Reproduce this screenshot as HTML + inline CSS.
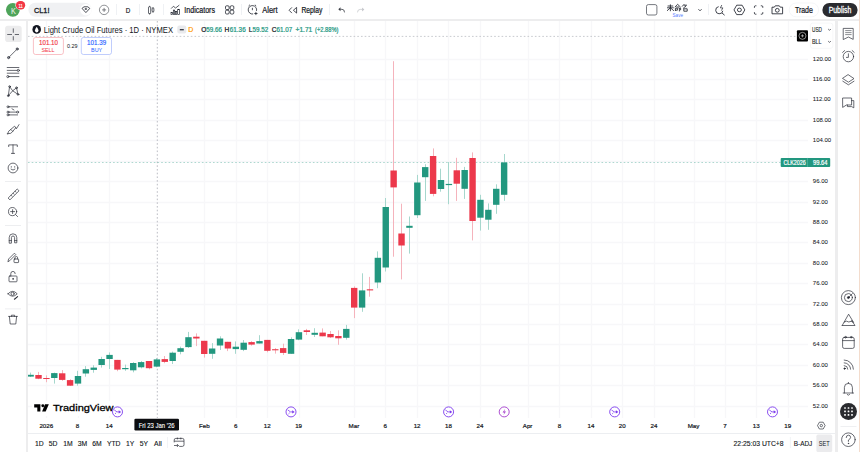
<!DOCTYPE html>
<html><head><meta charset="utf-8">
<style>
*{margin:0;padding:0;box-sizing:border-box}
html,body{width:860px;height:452px;overflow:hidden;background:#ededee;font-family:"Liberation Sans",sans-serif;color:#131722}
.a{position:absolute}
#hdr{left:0;top:0;width:860px;height:19px;background:#fff}
#lt{left:0;top:21px;width:26px;height:431px;background:#fff}
#ch{left:28px;top:21px;width:807px;height:431px;background:#fff}
#rt{left:837.6px;top:21px;width:22.4px;height:431px;background:#fff}
svg.full{position:absolute;left:0;top:0}
.grid line{stroke:#f7f7f9;stroke-width:1.3}
.pl{position:absolute;left:812.8px;width:24px;text-align:left;font-size:6px;line-height:10px;color:#131722;-webkit-text-stroke:0.05px #131722}
.tl{position:absolute;top:421px;width:40px;text-align:center;font-size:6.2px;line-height:10px;color:#131722;-webkit-text-stroke:0.2px #131722}
.tb{position:absolute;font-size:7.2px;line-height:10px;color:#131722}
.sep{position:absolute;background:#e0e3eb}
.ic{position:absolute;fill:none;stroke:#131722;stroke-width:0.8}
.bb{position:absolute;top:438px;font-size:7px;line-height:10px;color:#131722}
</style></head><body>
<div id="hdr" class="a"></div>
<div id="lt" class="a"></div>
<div id="ch" class="a"></div>
<div id="rt" class="a"></div>
<div class="a" style="left:859px;top:0;width:1px;height:452px;background:#f3dccd"></div>


<!-- HEADER -->
<svg class="full" width="860" height="20" viewBox="0 0 860 20" style="z-index:2">
  <circle cx="12.85" cy="9.85" r="6.9" fill="#4ea45a"/>
  <text x="11" y="13.7" font-size="9.4" fill="#f4f8f4" font-family="Liberation Sans" textLength="4.9" lengthAdjust="spacingAndGlyphs">K</text>
  <rect x="15.4" y="0.6" width="10.3" height="9.4" rx="4.7" fill="#fff"/>
  <rect x="15.9" y="1.1" width="9.3" height="8.4" rx="4.2" fill="#f23645"/>
  <text x="20.55" y="7.6" font-size="6" fill="#fff" stroke="#fff" stroke-width="0.15" text-anchor="middle" font-family="Liberation Sans" textLength="4.2" lengthAdjust="spacingAndGlyphs">11</text>
  <rect x="28.4" y="2.8" width="63.2" height="13.9" rx="6.95" fill="#f0f1f3"/>
  <text x="34" y="12.6" font-size="7.8" fill="#131722" stroke="#131722" stroke-width="0.3" font-family="Liberation Sans" textLength="15.5" lengthAdjust="spacingAndGlyphs">CL1!</text>
  <circle cx="85.9" cy="9.75" r="5.8" fill="#fff"/>
  <path d="M82 8.4 L84 6.8 H87.8 L89.8 8.4 L85.9 12.6 Z" fill="none" stroke="#131722" stroke-width="0.75" stroke-linejoin="round"/><path d="M84.4 9.1 Q85.9 7.6 87.4 9.1 Q85.9 10.6 84.4 9.1 Z" fill="#131722"/>
  <circle cx="104.1" cy="9.9" r="4.7" fill="none" stroke="#55585f" stroke-width="0.65"/>
  <path d="M102.1 9.9 H106.1 M104.1 7.9 V11.9" stroke="#4a4d55" stroke-width="0.7"/>
  <rect x="116" y="4" width="0.8" height="11" fill="#eceef2"/>
  <text x="125.7" y="12.8" font-size="7.6" fill="#131722" stroke="#131722" stroke-width="0.2" font-family="Liberation Sans" textLength="4.5" lengthAdjust="spacingAndGlyphs">D</text>
  <rect x="139" y="4" width="0.8" height="11" fill="#eceef2"/>
  <!-- candle icon -->
  <path d="M149.6 5.8 V14.6 M153 7 V12.8" stroke="#131722" stroke-width="0.6"/>
  <rect x="148.5" y="6.8" width="2.2" height="6.8" rx="0.5" fill="#fff" stroke="#131722" stroke-width="0.65"/>
  <rect x="152.1" y="8.2" width="1.8" height="3.4" rx="0.5" fill="#fff" stroke="#131722" stroke-width="0.65"/>
  <rect x="163" y="4" width="0.8" height="11" fill="#eceef2"/>
  <!-- indicators icon -->
  <path d="M171.1 8.6 L173.4 6.3 L175.6 8 L179.3 5.1" fill="none" stroke="#131722" stroke-width="0.7"/>
  <g fill="none" stroke="#131722" stroke-width="0.65"><rect x="171" y="12.3" width="1.5" height="2.1"/><rect x="173.3" y="10.1" width="1.4" height="4.3"/><rect x="175.4" y="11.4" width="1.4" height="3"/><rect x="177.7" y="9.3" width="1.8" height="5.1"/></g>
  <text x="184.3" y="12.8" font-size="8.6" fill="#131722" stroke="#131722" stroke-width="0.22" font-family="Liberation Sans" textLength="30.7" lengthAdjust="spacingAndGlyphs">Indicators</text>
  <!-- grid icon -->
  <g fill="none" stroke="#131722" stroke-width="0.75">
   <rect x="225.5" y="5.8" width="3.6" height="3.8" rx="1.1"/><rect x="230.2" y="5.8" width="3.6" height="3.8" rx="1.1"/>
   <rect x="225.5" y="10.2" width="3.6" height="3.8" rx="1.1"/><rect x="230.2" y="10.2" width="3.6" height="3.8" rx="1.1"/>
  </g>
  <rect x="241" y="4" width="0.8" height="11" fill="#eceef2"/>
  <!-- alert icon -->
  <g fill="none" stroke="#131722" stroke-width="0.75">
   <path d="M253.13 13.94 A4.2 4.2 0 1 1 256.46 10.89"/>
   <path d="M252.4 7.8 V10.2 M248.6 6 L249.9 4.8 M256.2 6 L254.9 4.8"/>
   <path d="M254.3 13.5 H257.5 M255.9 11.9 V15.1" stroke-width="0.75"/>
  </g>
  <text x="262.3" y="12.8" font-size="8.6" fill="#131722" stroke="#131722" stroke-width="0.22" font-family="Liberation Sans" textLength="15.3" lengthAdjust="spacingAndGlyphs">Alert</text>
  <!-- replay icon -->
  <g fill="none" stroke="#131722" stroke-width="0.75">
   <path d="M296.6 7.4 V13.1 L293.4 10.25 Z M291.9 7.4 L289.1 10.25 L291.9 13.1" stroke-linejoin="round"/>
  </g>
  <text x="301.4" y="12.8" font-size="8.6" fill="#131722" stroke="#131722" stroke-width="0.22" font-family="Liberation Sans" textLength="21" lengthAdjust="spacingAndGlyphs">Replay</text>
  <rect x="329" y="4" width="0.8" height="11" fill="#eceef2"/>
  <path d="M338.3 9.3 L340.5 7.3 V11.3 Z" fill="#3a3d45"/><path d="M340.2 9.3 H342 Q344.5 9.3 344.5 12.4" fill="none" stroke="#3a3d45" stroke-width="0.8"/>
  <path d="M364.3 9.4 L362.1 7.4 V11.4 Z" fill="#c3c5ca"/><path d="M362.4 9.4 H360.2 Q357.5 9.4 357.5 12.4" fill="none" stroke="#c3c5ca" stroke-width="0.75"/>

  <!-- right header -->
  <rect x="646.5" y="4.6" width="10.4" height="10.4" rx="1.8" fill="none" stroke="#4a4d55" stroke-width="0.75"/>
  <g stroke="#131722" stroke-width="0.8" fill="none" transform="translate(0 -0.4)">
   <!-- 未 -->
   <path d="M667.6 6.4 H673.2 M667 8.2 H673.8 M670.4 4.8 V11.6 M670.2 8.4 L667 11.2 M670.6 8.4 L673.9 11.2"/>
   <!-- 命 -->
   <path d="M677.6 4.7 L674.8 7.6 M677.6 4.7 L680.6 7.6 M676.2 7.4 H679 M675.4 8.6 V11.4 M675.4 8.6 H677.4 V10.6 H675.4 M678.6 8.6 H680.6 V10.6 M679.4 8.6 V11.8"/>
   <!-- 名 -->
   <path d="M684.2 4.6 L682 7 M683.8 5.6 H686.6 L683 9 M683.8 9.2 H687.2 V11.6 H683.8 V9.2 M685.4 6.8 L685.8 7.6"/>
  </g>
  <text x="677.8" y="16.6" font-size="4.8" fill="#5a7dff" text-anchor="middle" font-family="Liberation Sans" textLength="10.5" lengthAdjust="spacingAndGlyphs">Save</text>
  <path d="M698.4 9.2 L700 10.8 L701.6 9.2" fill="none" stroke="#131722" stroke-width="0.75"/>
  <rect x="708" y="4" width="0.8" height="11" fill="#eceef2"/>
  <!-- quick search icon -->
  <g fill="none" stroke="#131722" stroke-width="0.8">
   <path d="M718.67 6.65 A3.6 3.6 0 1 0 722.85 10.83"/>
   <path d="M722 13 L724.6 15.2"/>
   <path d="M721.8 5 L720.4 7.9 H722.9 L721.4 10.6" stroke-width="0.65"/>
  </g>
  <!-- settings hex -->
  <g fill="none" stroke="#131722" stroke-width="0.8">
   <path d="M736.7 5.2 H742.1 L744.8 9.9 L742.1 14.6 H736.7 L734 9.9 Z" stroke-linejoin="round"/>
   <ellipse cx="739.4" cy="9.9" rx="2" ry="1.8"/>
  </g>
  <!-- fullscreen -->
  <g fill="none" stroke="#131722" stroke-width="0.8">
   <path d="M754.4 7.8 V6.8 Q754.4 5.8 755.4 5.8 H756.4 M760.8 5.8 H761.8 Q762.8 5.8 762.8 6.8 V7.8 M762.8 12.2 V13.2 Q762.8 14.2 761.8 14.2 H760.8 M756.4 14.2 H755.4 Q754.4 14.2 754.4 13.2 V12.2"/>
  </g>
  <!-- camera -->
  <g fill="none" stroke="#131722" stroke-width="0.8">
   <path d="M772 7.2 H774.3 L775.3 5.8 H779.3 L780.3 7.2 H782.6 V13.8 H772 Z"/>
   <circle cx="777.3" cy="10.3" r="1.9"/>
  </g>
  <rect x="789.2" y="3" width="29.4" height="13.8" rx="6.9" fill="#fff" stroke="#eef0f3" stroke-width="0.6"/>
  <text x="803.9" y="12.8" font-size="8.6" fill="#131722" stroke="#131722" stroke-width="0.22" text-anchor="middle" font-family="Liberation Sans" textLength="18" lengthAdjust="spacingAndGlyphs">Trade</text>
  <rect x="822.4" y="2.9" width="35.2" height="14.1" rx="7" fill="#2a2b2f"/>
  <text x="840" y="12.7" font-size="8.6" fill="#fff" stroke="#fff" stroke-width="0.3" text-anchor="middle" font-family="Liberation Sans" textLength="22.6" lengthAdjust="spacingAndGlyphs">Publish</text>
</svg>


<!-- LEGEND + TOOLBARS -->
<svg class="full" width="860" height="452" viewBox="0 0 860 452" style="z-index:3">
  <circle cx="36.7" cy="29.4" r="4.3" fill="#131722"/>
  <path d="M36.7 26.8 Q34.9 29.4 34.9 30.6 A1.8 1.8 0 0 0 38.5 30.6 Q38.5 29.4 36.7 26.8 Z" fill="#fff"/>
  <text x="43.7" y="32.8" font-size="8.8" fill="#131722" font-family="Liberation Sans" textLength="129.3" lengthAdjust="spacingAndGlyphs">Light Crude Oil Futures · 1D · NYMEX</text>
  <rect x="177.3" y="25.6" width="9" height="8" rx="2" fill="#e9eaed"/>
  <rect x="179.8" y="29.2" width="4" height="1.1" fill="#131722"/>
  <text x="190.9" y="32.2" font-size="7" fill="#ff9800" stroke="#ff9800" stroke-width="0.2" text-anchor="middle" font-family="Liberation Sans">D</text>
  <g font-family="Liberation Sans" font-size="6.6" stroke-width="0.22">
   <text x="201.2" y="32" fill="#131722" stroke="#131722">O</text><text x="206.2" y="32" fill="#22977f" stroke="#22977f" textLength="15.7" lengthAdjust="spacingAndGlyphs">59.66</text>
   <text x="224.6" y="32" fill="#131722" stroke="#131722">H</text><text x="229.8" y="32" fill="#22977f" stroke="#22977f" textLength="15.9" lengthAdjust="spacingAndGlyphs">61.36</text>
   <text x="248.8" y="32" fill="#131722" stroke="#131722">L</text><text x="252.6" y="32" fill="#22977f" stroke="#22977f" textLength="15.7" lengthAdjust="spacingAndGlyphs">59.52</text>
   <text x="271.8" y="32" fill="#131722" stroke="#131722">C</text><text x="276.6" y="32" fill="#22977f" stroke="#22977f" textLength="15.8" lengthAdjust="spacingAndGlyphs">61.07</text>
   <text x="295.5" y="32" fill="#22977f" stroke="#22977f" textLength="16.8" lengthAdjust="spacingAndGlyphs">+1.71</text>
   <text x="315" y="32" fill="#22977f" stroke="#22977f" textLength="23.4" lengthAdjust="spacingAndGlyphs">(+2.88%)</text>
  </g>
  <!-- sell / buy -->
  <rect x="33.4" y="37.5" width="30" height="17" rx="2.2" fill="#fff" stroke="#f7a6ad" stroke-width="0.7"/>
  <text x="48.5" y="44.9" font-size="6.6" fill="#f23645" stroke="#f23645" stroke-width="0.15" text-anchor="middle" font-family="Liberation Sans" textLength="19" lengthAdjust="spacingAndGlyphs">101.10</text>
  <text x="48" y="52" font-size="5.4" fill="#f23645" text-anchor="middle" font-family="Liberation Sans">SELL</text>
  <text x="72.2" y="48" font-size="5.4" fill="#131722" text-anchor="middle" font-family="Liberation Sans">0.29</text>
  <rect x="81.3" y="37.5" width="30.2" height="17" rx="2.2" fill="#fff" stroke="#a5b8fb" stroke-width="0.7"/>
  <text x="96.6" y="44.9" font-size="6.6" fill="#2962ff" stroke="#2962ff" stroke-width="0.15" text-anchor="middle" font-family="Liberation Sans" textLength="19" lengthAdjust="spacingAndGlyphs">101.39</text>
  <text x="96.6" y="52" font-size="5.4" fill="#2962ff" text-anchor="middle" font-family="Liberation Sans">BUY</text>

  <!-- LEFT TOOLBAR -->
  <rect x="5.1" y="25.8" width="16.6" height="16.3" rx="2.8" fill="#ececed"/>
  <g fill="none" stroke="#2a2d36" stroke-width="0.7" stroke-linecap="round">
   <path d="M13.3 28.8 V32.4 M13.3 36.6 V40 M7.6 34.5 H11.6 M15.2 34.5 H18.6"/>
   <!-- line tool -->
   <path d="M9.3 56.9 L16.5 49.7"/>
   <circle cx="8.6" cy="57.6" r="1.1" fill="#8a8d95"/><circle cx="17.2" cy="49" r="1.1" fill="#8a8d95"/>
   <!-- fib -->
   <path d="M7.2 67.5 H18.9 M7.2 70.4 H17.2 M7.2 73.2 H18.9 M9 76.6 H18.9"/>
   <circle cx="18.3" cy="70.4" r="1.1"/><circle cx="7.9" cy="76.6" r="1.1"/>
   <!-- pattern -->
   <path d="M8.3 95.7 L9.6 86.6 L12.7 90.8 L16.5 87.8 L18 94.4 L12.7 90.8 L8.3 95.7"/>
   <circle cx="9.6" cy="86.6" r="0.9"/><circle cx="8.3" cy="95.7" r="0.9"/><circle cx="16.5" cy="87.8" r="0.9"/><circle cx="18" cy="94.4" r="0.9"/>
   <!-- forecast -->
   <path d="M9 106.8 H17.6 M9 112.1 H16.6 M9 114.9 H17.6 M12 108.8 L14 110"/>
   <circle cx="8" cy="106.8" r="1"/><circle cx="8" cy="112.1" r="1"/><circle cx="17.6" cy="112.1" r="1"/><circle cx="8" cy="114.9" r="1"/>
   <!-- brush -->
   <path d="M7.6 133.8 Q8.2 130.6 10.8 129.4 L12.8 131.4 Q11.6 134 7.6 133.8 Z M10.8 129.4 L14.6 126.2 L15.8 127.6 L12.8 131.4 M15.6 127.6 L16.4 128.8 L19 124.6"/>
   <!-- T -->
   <path d="M8.7 146.6 V144.9 H17.3 V146.6 M13 144.9 V153.4 M11.4 153.4 H14.6"/>
   <!-- smiley -->
   <circle cx="13" cy="168" r="4.9"/>
   <path d="M11.3 166.6 V167.2 M14.7 166.6 V167.2 M11 169.2 Q13 171.2 15 169.2"/>
   <!-- ruler -->
   <path d="M8.4 197.8 L17.2 189 L19 190.8 L10.2 199.6 Z M11 195.2 L12 196.2 M13 193.2 L14 194.2 M15 191.2 L16 192.2"/>
   <!-- zoom -->
   <circle cx="12.6" cy="211.6" r="4.1"/>
   <path d="M15.6 214.6 L17.6 216.6 M10.6 211.6 H14.6 M12.6 209.6 V213.6"/>
   <!-- magnet -->
   <path d="M9.2 242.8 V237.6 A3.8 3.8 0 0 1 16.8 237.6 V242.8 H14.6 V237.6 A1.6 1.6 0 0 0 11.4 237.6 V242.8 Z M9.2 240.6 H11.4 M14.6 240.6 H16.8"/>
   <!-- pencil lock -->
   <path d="M8 261.4 L8.6 259 L14.4 253.2 L15.8 254.6 L10 260.4 Z"/>
   <rect x="14" y="259" width="4.6" height="3.6" rx="0.6"/>
   <path d="M15 259 V257.8 A1.3 1.3 0 0 1 17.6 257.8 V259"/>
   <!-- lock -->
   <rect x="9" y="276" width="8" height="5.8" rx="0.8"/>
   <path d="M10.8 276 V273.6 A2.2 2.2 0 0 1 15.2 273.6"/>
   <circle cx="13" cy="278.9" r="0.4" fill="#131722"/>
   <!-- eye -->
   <path d="M8 293.8 Q12.6 288.8 17.2 293.8 Q12.6 298.8 8 293.8 Z"/>
   <circle cx="12.6" cy="293.8" r="1.6"/>
   <path d="M14.4 299.2 L17.6 296.6" stroke-width="1.1"/>
   <!-- trash -->
   <path d="M8.6 316.4 H17.4 M9.4 316.4 L10.2 324 H15.8 L16.6 316.4 M11.4 316.4 V315.2 H14.6 V316.4"/>
  </g>
  <rect x="5" y="181" width="16" height="0.8" fill="#e9eaed"/>
  <rect x="5" y="225" width="16" height="0.8" fill="#e9eaed"/>
  <rect x="5" y="308.5" width="16" height="0.8" fill="#e9eaed"/>

  <!-- RIGHT SIDEBAR -->
  <g fill="none" stroke="#2a2d36" stroke-width="0.7" stroke-linecap="round">
   <!-- watchlist -->
   <path d="M843.6 28.4 H853.2 V39.4 L848.4 37 L843.6 39.4 Z"/><path d="M845.6 30.6 H851.2 M845.6 32.6 H851.2 M845.6 34.6 H851.2" stroke-width="0.55"/>
   <!-- alarm -->
   <circle cx="848.4" cy="56.6" r="5.2"/>
   <path d="M848.4 53.8 V57.4 H846.4 M842.6 52.4 L844.6 50.6 M854.2 52.4 L852.2 50.6"/>
   <!-- layers -->
   <path d="M848.4 74.8 L854 78.6 L848.4 82.2 L842.8 78.6 Z M842.8 81.2 L848.4 84.8 L854 81.2"/>
   <!-- chat -->
   <path d="M843 98 H851.6 V105 H846.4 L843 107.2 Z M851.6 100.6 H853.8 V107.8 L851.6 106.6 H847.4 V105"/>
   <!-- target -->
   <circle cx="848.4" cy="297.6" r="7"/>
   <circle cx="848.4" cy="297.6" r="4"/>
   <circle cx="848.4" cy="297.6" r="1" fill="#131722"/>
   <path d="M848.6 297.4 L852.4 293.6"/>
   <!-- mountain -->
   <path d="M842.2 325.5 H855 L851.6 320.4 M842.2 325.5 L848.6 314.2 L853.6 322.4 Q851 320.4 848.8 322 Q846.6 320.2 844.2 322"/>
   <!-- calendar -->
   <rect x="842.6" y="337.4" width="11.6" height="11" rx="1.6"/>
   <path d="M842.6 340.6 H854.2"/>
   <circle cx="845.6" cy="337.2" r="0.8"/><circle cx="851.2" cy="337.2" r="0.8"/>
   <!-- rss -->
   <path d="M844.2 362.8 A6.4 6.4 0 0 1 850.6 369.2 M844.2 360 A9.2 9.2 0 0 1 853.4 369.2 M844.2 365.6 A3.6 3.6 0 0 1 847.8 369.2"/>
   <circle cx="844.6" cy="368.6" r="0.7" fill="#131722"/>
   <!-- bell -->
   <path d="M843.2 393 H853.6 M844.4 393 V387.4 A4 4 0 0 1 852.4 387.4 V393 M848.4 383.4 V382.4 M847.2 394.6 Q848.4 396 849.6 394.6"/>
   <!-- help -->
   <circle cx="848.4" cy="439.7" r="6.8"/>
   <path d="M846.2 437.6 Q846.2 435.2 848.4 435.2 Q850.6 435.2 850.6 437.4 Q850.6 438.8 848.4 440 V441.4"/>
   <circle cx="848.4" cy="443.4" r="0.3" fill="#131722"/>
  </g>
  <circle cx="848.5" cy="411.4" r="8.5" fill="#2a2b2f"/>
  <g fill="#fff"><rect x="844.15" y="407.15" width="1.7" height="1.7" rx="0.5"/><rect x="847.65" y="407.15" width="1.7" height="1.7" rx="0.5"/><rect x="851.15" y="407.15" width="1.7" height="1.7" rx="0.5"/><rect x="844.15" y="410.54999999999995" width="1.7" height="1.7" rx="0.5"/><rect x="847.65" y="410.54999999999995" width="1.7" height="1.7" rx="0.5"/><rect x="851.15" y="410.54999999999995" width="1.7" height="1.7" rx="0.5"/><rect x="844.15" y="413.95" width="1.7" height="1.7" rx="0.5"/><rect x="847.65" y="413.95" width="1.7" height="1.7" rx="0.5"/><rect x="851.15" y="413.95" width="1.7" height="1.7" rx="0.5"/></g>
  <rect x="840.5" y="426" width="16" height="0.7" fill="#e9eaed"/>
</svg>

<!-- grid + candles -->
<svg class="full" width="860" height="452" viewBox="0 0 860 452">
<g class="grid">
<line x1="28" y1="59.5" x2="808" y2="59.5"/>
<line x1="28" y1="79.5" x2="808" y2="79.5"/>
<line x1="28" y1="99.5" x2="808" y2="99.5"/>
<line x1="28" y1="120.5" x2="808" y2="120.5"/>
<line x1="28" y1="140.5" x2="808" y2="140.5"/>
<line x1="28" y1="161.5" x2="808" y2="161.5"/>
<line x1="28" y1="181.5" x2="808" y2="181.5"/>
<line x1="28" y1="202.5" x2="808" y2="202.5"/>
<line x1="28" y1="222.5" x2="808" y2="222.5"/>
<line x1="28" y1="242.5" x2="808" y2="242.5"/>
<line x1="28" y1="263.5" x2="808" y2="263.5"/>
<line x1="28" y1="283.5" x2="808" y2="283.5"/>
<line x1="28" y1="304.5" x2="808" y2="304.5"/>
<line x1="28" y1="324.5" x2="808" y2="324.5"/>
<line x1="28" y1="344.5" x2="808" y2="344.5"/>
<line x1="28" y1="365.5" x2="808" y2="365.5"/>
<line x1="28" y1="385.5" x2="808" y2="385.5"/>
<line x1="28" y1="406.5" x2="808" y2="406.5"/>
<line x1="46.5" y1="21" x2="46.5" y2="418"/>
<line x1="78.5" y1="21" x2="78.5" y2="418"/>
<line x1="109.5" y1="21" x2="109.5" y2="418"/>
<line x1="204.5" y1="21" x2="204.5" y2="418"/>
<line x1="236.5" y1="21" x2="236.5" y2="418"/>
<line x1="267.5" y1="21" x2="267.5" y2="418"/>
<line x1="299.5" y1="21" x2="299.5" y2="418"/>
<line x1="354.5" y1="21" x2="354.5" y2="418"/>
<line x1="385.5" y1="21" x2="385.5" y2="418"/>
<line x1="417.5" y1="21" x2="417.5" y2="418"/>
<line x1="448.5" y1="21" x2="448.5" y2="418"/>
<line x1="480.5" y1="21" x2="480.5" y2="418"/>
<line x1="528.5" y1="21" x2="528.5" y2="418"/>
<line x1="559.5" y1="21" x2="559.5" y2="418"/>
<line x1="591.5" y1="21" x2="591.5" y2="418"/>
<line x1="622.5" y1="21" x2="622.5" y2="418"/>
<line x1="654.5" y1="21" x2="654.5" y2="418"/>
<line x1="694.5" y1="21" x2="694.5" y2="418"/>
<line x1="725.5" y1="21" x2="725.5" y2="418"/>
<line x1="756.5" y1="21" x2="756.5" y2="418"/>
<line x1="788.5" y1="21" x2="788.5" y2="418"/>
</g>
<!-- crosshair vertical -->
<line x1="157.3" y1="21" x2="157.3" y2="418" stroke="#b4b6bd" stroke-width="0.9" stroke-dasharray="1.6 2.1"/>
<!-- crosshair horizontal -->
<line x1="28" y1="36.4" x2="797" y2="36.4" stroke="#c2c4ca" stroke-width="0.9" stroke-dasharray="1.6 2.1"/>
<!-- last price line -->
<line x1="28" y1="162.5" x2="781" y2="162.5" stroke="#22977f" stroke-width="0.8" stroke-dasharray="1.6 2.1" opacity="0.45"/>
<defs><clipPath id="pane"><rect x="28" y="21" width="780" height="397"/></clipPath></defs>
<g clip-path="url(#pane)">
<rect x="30" y="372.6" width="1" height="4.4" fill="#a6d7cd"/>
<rect x="27.43" y="374.8" width="6.4" height="1.8" fill="#22977f"/>
<rect x="38" y="371.9" width="1" height="7.3" fill="#f5b3bc"/>
<rect x="35.32" y="375.0" width="6.4" height="3.7" fill="#ec384b"/>
<rect x="46" y="375.4" width="1" height="6.8" fill="#f5b3bc"/>
<rect x="43.21" y="378.0" width="6.4" height="1.0" fill="#ec384b"/>
<rect x="54" y="372.6" width="1" height="11.0" fill="#a6d7cd"/>
<rect x="51.1" y="373.1" width="6.4" height="4.9" fill="#22977f"/>
<rect x="62" y="370.1" width="1" height="10.7" fill="#f5b3bc"/>
<rect x="58.99" y="373.3" width="6.4" height="6.6" fill="#ec384b"/>
<rect x="70" y="379.2" width="1" height="6.8" fill="#f5b3bc"/>
<rect x="66.88" y="380.1" width="6.4" height="5.6" fill="#ec384b"/>
<rect x="77" y="370.8" width="1" height="14.9" fill="#a6d7cd"/>
<rect x="74.78" y="376.0" width="6.4" height="7.6" fill="#22977f"/>
<rect x="85" y="366.1" width="1" height="10.6" fill="#a6d7cd"/>
<rect x="82.67" y="369.2" width="6.4" height="4.3" fill="#22977f"/>
<rect x="93" y="365.2" width="1" height="7.5" fill="#a6d7cd"/>
<rect x="90.56" y="367.6" width="6.4" height="2.3" fill="#22977f"/>
<rect x="101" y="356.8" width="1" height="10.8" fill="#a6d7cd"/>
<rect x="98.45" y="359.0" width="6.4" height="6.0" fill="#22977f"/>
<rect x="109" y="352.4" width="1" height="16.6" fill="#a6d7cd"/>
<rect x="106.34" y="354.9" width="6.4" height="4.1" fill="#22977f"/>
<rect x="117" y="359.9" width="1" height="11.3" fill="#f5b3bc"/>
<rect x="114.23" y="359.9" width="6.4" height="9.7" fill="#ec384b"/>
<rect x="125" y="364.6" width="1" height="6.2" fill="#a6d7cd"/>
<rect x="122.13" y="368.0" width="6.4" height="1.2" fill="#22977f"/>
<rect x="133" y="362.1" width="1" height="10.2" fill="#a6d7cd"/>
<rect x="130.02" y="363.0" width="6.4" height="7.3" fill="#22977f"/>
<rect x="141" y="361.0" width="1" height="7.4" fill="#a6d7cd"/>
<rect x="137.91" y="362.1" width="6.4" height="5.2" fill="#22977f"/>
<rect x="149" y="361.0" width="1" height="8.3" fill="#f5b3bc"/>
<rect x="145.8" y="361.0" width="6.4" height="7.2" fill="#ec384b"/>
<rect x="156" y="358.0" width="1" height="9.3" fill="#a6d7cd"/>
<rect x="153.69" y="359.4" width="6.4" height="7.2" fill="#22977f"/>
<rect x="164" y="356.0" width="1" height="7.2" fill="#f5b3bc"/>
<rect x="161.58" y="359.1" width="6.4" height="2.8" fill="#ec384b"/>
<rect x="172" y="351.6" width="1" height="12.4" fill="#a6d7cd"/>
<rect x="169.48" y="352.7" width="6.4" height="8.3" fill="#22977f"/>
<rect x="180" y="346.6" width="1" height="7.7" fill="#a6d7cd"/>
<rect x="177.37" y="348.2" width="6.4" height="3.6" fill="#22977f"/>
<rect x="188" y="331.9" width="1" height="16.1" fill="#a6d7cd"/>
<rect x="185.26" y="337.2" width="6.4" height="9.9" fill="#22977f"/>
<rect x="196" y="333.4" width="1" height="12.7" fill="#f5b3bc"/>
<rect x="193.15" y="336.7" width="6.4" height="1.8" fill="#ec384b"/>
<rect x="204" y="340.8" width="1" height="16.8" fill="#f5b3bc"/>
<rect x="201.04" y="340.8" width="6.4" height="13.2" fill="#ec384b"/>
<rect x="212" y="343.1" width="1" height="15.7" fill="#a6d7cd"/>
<rect x="208.93" y="348.5" width="6.4" height="5.3" fill="#22977f"/>
<rect x="220" y="336.3" width="1" height="13.7" fill="#a6d7cd"/>
<rect x="216.83" y="338.5" width="6.4" height="7.0" fill="#22977f"/>
<rect x="227" y="341.8" width="1" height="9.3" fill="#f5b3bc"/>
<rect x="224.72" y="341.8" width="6.4" height="6.7" fill="#ec384b"/>
<rect x="235" y="341.4" width="1" height="12.4" fill="#a6d7cd"/>
<rect x="232.61" y="346.7" width="6.4" height="2.4" fill="#22977f"/>
<rect x="243" y="340.0" width="1" height="11.1" fill="#a6d7cd"/>
<rect x="240.5" y="342.7" width="6.4" height="7.1" fill="#22977f"/>
<rect x="251" y="341.1" width="1" height="4.6" fill="#f5b3bc"/>
<rect x="248.39" y="342.1" width="6.4" height="2.5" fill="#ec384b"/>
<rect x="259" y="335.2" width="1" height="8.3" fill="#a6d7cd"/>
<rect x="256.29" y="341.1" width="6.4" height="2.4" fill="#22977f"/>
<rect x="267" y="339.9" width="1" height="12.4" fill="#f5b3bc"/>
<rect x="264.18" y="339.9" width="6.4" height="10.9" fill="#ec384b"/>
<rect x="275" y="348.1" width="1" height="5.5" fill="#f5b3bc"/>
<rect x="272.07" y="349.2" width="6.4" height="1.1" fill="#ec384b"/>
<rect x="283" y="343.7" width="1" height="11.3" fill="#f5b3bc"/>
<rect x="279.96" y="348.1" width="6.4" height="4.8" fill="#ec384b"/>
<rect x="291" y="337.3" width="1" height="16.5" fill="#a6d7cd"/>
<rect x="287.85" y="339.0" width="6.4" height="14.8" fill="#22977f"/>
<rect x="298" y="329.3" width="1" height="10.9" fill="#a6d7cd"/>
<rect x="295.74" y="332.2" width="6.4" height="7.4" fill="#22977f"/>
<rect x="306" y="328.9" width="1" height="6.1" fill="#f5b3bc"/>
<rect x="303.64" y="330.3" width="6.4" height="1.7" fill="#ec384b"/>
<rect x="314" y="328.2" width="1" height="8.8" fill="#a6d7cd"/>
<rect x="311.53" y="332.8" width="6.4" height="2.0" fill="#22977f"/>
<rect x="322" y="328.4" width="1" height="7.9" fill="#f5b3bc"/>
<rect x="319.42" y="332.6" width="6.4" height="3.7" fill="#ec384b"/>
<rect x="330" y="331.0" width="1" height="7.0" fill="#f5b3bc"/>
<rect x="327.31" y="334.0" width="6.4" height="3.3" fill="#ec384b"/>
<rect x="338" y="330.3" width="1" height="14.5" fill="#f5b3bc"/>
<rect x="335.2" y="336.0" width="6.4" height="2.3" fill="#ec384b"/>
<rect x="346" y="324.9" width="1" height="14.7" fill="#a6d7cd"/>
<rect x="343.09" y="328.9" width="6.4" height="8.9" fill="#22977f"/>
<rect x="354" y="286.4" width="1" height="31.7" fill="#f5b3bc"/>
<rect x="350.99" y="287.9" width="6.4" height="19.7" fill="#ec384b"/>
<rect x="362" y="273.3" width="1" height="38.5" fill="#a6d7cd"/>
<rect x="358.88" y="290.4" width="6.4" height="17.2" fill="#22977f"/>
<rect x="369" y="276.9" width="1" height="19.8" fill="#f5b3bc"/>
<rect x="366.77" y="289.3" width="6.4" height="1.1" fill="#ec384b"/>
<rect x="377" y="251.4" width="1" height="36.8" fill="#a6d7cd"/>
<rect x="374.66" y="257.8" width="6.4" height="24.7" fill="#22977f"/>
<rect x="385" y="198.0" width="1" height="73.5" fill="#a6d7cd"/>
<rect x="382.55" y="207.0" width="6.4" height="60.5" fill="#22977f"/>
<rect x="393" y="61.2" width="1" height="195.5" fill="#f5b3bc"/>
<rect x="390.44" y="170.5" width="6.4" height="16.9" fill="#ec384b"/>
<rect x="401" y="203.7" width="1" height="75.7" fill="#f5b3bc"/>
<rect x="398.34" y="233.5" width="6.4" height="12.0" fill="#ec384b"/>
<rect x="409" y="216.5" width="1" height="37.1" fill="#a6d7cd"/>
<rect x="406.23" y="225.8" width="6.4" height="2.0" fill="#22977f"/>
<rect x="417" y="174.9" width="1" height="43.1" fill="#a6d7cd"/>
<rect x="414.12" y="182.5" width="6.4" height="32.7" fill="#22977f"/>
<rect x="425" y="164.2" width="1" height="36.7" fill="#a6d7cd"/>
<rect x="422.01" y="167.1" width="6.4" height="10.1" fill="#22977f"/>
<rect x="433" y="148.4" width="1" height="47.9" fill="#f5b3bc"/>
<rect x="429.9" y="156.0" width="6.4" height="37.9" fill="#ec384b"/>
<rect x="440" y="168.7" width="1" height="23.0" fill="#a6d7cd"/>
<rect x="437.79" y="180.0" width="6.4" height="9.0" fill="#22977f"/>
<rect x="448" y="162.0" width="1" height="42.2" fill="#a6d7cd"/>
<rect x="445.69" y="183.9" width="6.4" height="1.2" fill="#22977f"/>
<rect x="456" y="157.8" width="1" height="43.1" fill="#f5b3bc"/>
<rect x="453.58" y="170.3" width="6.4" height="13.4" fill="#ec384b"/>
<rect x="464" y="166.9" width="1" height="32.0" fill="#a6d7cd"/>
<rect x="461.47" y="170.0" width="6.4" height="18.8" fill="#22977f"/>
<rect x="472" y="152.4" width="1" height="88.0" fill="#f5b3bc"/>
<rect x="469.36" y="158.0" width="6.4" height="63.0" fill="#ec384b"/>
<rect x="480" y="194.8" width="1" height="35.8" fill="#a6d7cd"/>
<rect x="477.25" y="199.8" width="6.4" height="17.9" fill="#22977f"/>
<rect x="488" y="203.4" width="1" height="26.4" fill="#a6d7cd"/>
<rect x="485.14" y="209.8" width="6.4" height="9.9" fill="#22977f"/>
<rect x="496" y="184.3" width="1" height="29.5" fill="#a6d7cd"/>
<rect x="493.04" y="188.8" width="6.4" height="16.0" fill="#22977f"/>
<rect x="504" y="154.0" width="1" height="46.8" fill="#a6d7cd"/>
<rect x="500.93" y="162.4" width="6.4" height="32.4" fill="#22977f"/>
</g>
<!-- time axis separator -->
<rect x="28" y="433" width="807" height="1" fill="#eceef1"/>
</svg>


<!-- OVERLAYS: price axis, time axis, logo, bottom bar -->
<svg class="full" width="860" height="452" viewBox="0 0 860 452" style="z-index:4">
  <!-- black plus button -->
  <rect x="796.9" y="30.2" width="11.1" height="11.3" rx="1" fill="#000"/>
  <circle cx="802.45" cy="35.85" r="3.5" fill="none" stroke="#e6e6e6" stroke-width="0.6"/>
  <path d="M800.9 35.85 H804 M802.45 34.3 V37.4" stroke="#e6e6e6" stroke-width="0.6"/>
  <!-- USD/BLL -->
  <rect x="810.4" y="23.1" width="22.5" height="25.2" rx="2.4" fill="#fff" stroke="#f0f1f3" stroke-width="0.6"/>
  <text x="812" y="31.8" font-size="6.4" fill="#131722" stroke="#131722" stroke-width="0.1" font-family="Liberation Sans" textLength="10" lengthAdjust="spacingAndGlyphs">USD</text>
  <text x="812" y="43.9" font-size="6.4" fill="#131722" stroke="#131722" stroke-width="0.1" font-family="Liberation Sans" textLength="9.6" lengthAdjust="spacingAndGlyphs">BLL</text>
  <path d="M828.2 29 L829.5 30.3 L830.8 29 M828.2 41.1 L829.5 42.4 L830.8 41.1" fill="none" stroke="#131722" stroke-width="0.65"/>
  <!-- last price label -->
  <rect x="780.7" y="157.9" width="49.5" height="9" rx="1" fill="#22977f"/>
  <rect x="807.2" y="157.9" width="0.5" height="9" fill="#5ec0ae"/>
  <text x="794.6" y="164.8" font-size="6.6" fill="#fff" stroke="#fff" stroke-width="0.2" text-anchor="middle" font-family="Liberation Sans" textLength="22.2" lengthAdjust="spacingAndGlyphs">CLK2026</text>
  <text x="820.2" y="164.8" font-size="6.6" fill="#fff" stroke="#fff" stroke-width="0.2" text-anchor="middle" font-family="Liberation Sans" textLength="14.5" lengthAdjust="spacingAndGlyphs">99.64</text>
  <!-- time tooltip -->
  <rect x="134.4" y="418.8" width="44.6" height="11.6" rx="1.2" fill="#0c0d10"/>
  <text x="156.65" y="428.1" font-size="6.6" fill="#fff" stroke="#fff" stroke-width="0.1" text-anchor="middle" font-family="Liberation Sans" textLength="35.9" lengthAdjust="spacingAndGlyphs">Fri 23 Jan '26</text>
  <!-- time axis settings icon -->
  <path d="M819.4 422.2 H823.2 L825.1 425.6 L823.2 429 H819.4 L817.5 425.6 Z" fill="none" stroke="#131722" stroke-width="0.6"/>
  <circle cx="821.3" cy="425.6" r="1.2" fill="none" stroke="#131722" stroke-width="0.6"/>
  <!-- TradingView logo -->
  <rect x="32" y="401" width="83" height="15" fill="#fff"/>
  <path d="M34.2 404.2 H40.4 V411.5 H37.3 V407.4 H34.2 Z" fill="#000"/>
  <circle cx="42.8" cy="405.7" r="1.45" fill="#000"/>
  <path d="M45 404.2 H48.8 L45.7 411.5 H42.1 Z" fill="#000"/>
  <text x="53" y="411.4" font-size="9.8" fill="#000" stroke="#000" stroke-width="0.3" font-family="Liberation Sans" textLength="60.5" lengthAdjust="spacingAndGlyphs">TradingView</text>
  <!-- event icons -->
  <g fill="#fff" stroke="#7c3aed" stroke-width="0.9">
   <circle cx="117.5" cy="411.9" r="5"/>
   <circle cx="291" cy="411.9" r="5"/>
   <circle cx="448.6" cy="411.9" r="5"/>
   <circle cx="614.7" cy="411.9" r="5"/>
   <circle cx="772.5" cy="411.9" r="5"/>
  </g>
  <g fill="none" stroke="#7c3aed" stroke-width="0.8"><path d="M114.2 409.9 L117.0 411.9 H119.1 M115.0 413.9 L116.2 412.8"/><path d="M287.7 409.9 L290.5 411.9 H292.6 M288.5 413.9 L289.7 412.8"/><path d="M445.3 409.9 L448.1 411.9 H450.2 M446.1 413.9 L447.3 412.8"/><path d="M611.4 409.9 L614.2 411.9 H616.3 M612.2 413.9 L613.4 412.8"/><path d="M769.2 409.9 L772.0 411.9 H774.1 M770.0 413.9 L771.2 412.8"/></g>
  <g fill="#7c3aed"><path d="M118.7 410.3 L121.2 411.9 L118.7 413.5 Z"/><path d="M292.2 410.3 L294.7 411.9 L292.2 413.5 Z"/><path d="M449.8 410.3 L452.3 411.9 L449.8 413.5 Z"/><path d="M615.9 410.3 L618.4 411.9 L615.9 413.5 Z"/><path d="M773.7 410.3 L776.2 411.9 L773.7 413.5 Z"/></g>
  <circle cx="504.2" cy="411.9" r="5" fill="#fff" stroke="#a43ccc" stroke-width="0.9"/>
  <path d="M505.2 408.8 L502.6 412.4 H504.4 L503.4 415 L506 411.4 H504.2 Z" fill="#a43ccc"/>

  <!-- bottom bar -->
  <g font-family="Liberation Sans" font-size="6.8" fill="#131722" stroke="#131722" stroke-width="0.12" text-anchor="middle">
   <text x="39.3" y="445.9">1D</text><text x="53.2" y="445.9">5D</text><text x="67.9" y="445.9">1M</text>
   <text x="82.5" y="445.9">3M</text><text x="96.9" y="445.9">6M</text><text x="113.7" y="445.9">YTD</text>
   <text x="130.2" y="445.9">1Y</text><text x="143.9" y="445.9">5Y</text><text x="157.9" y="445.9">All</text>
   <text x="758.6" y="445.9" textLength="50" lengthAdjust="spacingAndGlyphs">22:25:03 UTC+8</text>
   <text x="803" y="445.9" textLength="18.5" lengthAdjust="spacingAndGlyphs">B-ADJ</text>
  </g>
  <rect x="167" y="437" width="0.7" height="11" fill="#eceef2"/>
  <g fill="none" stroke="#131722" stroke-width="0.7">
   <path d="M174.2 442.4 V440 Q174.2 438.4 175.8 438.4 H182.4 Q184 438.4 184 440 V444.8 Q184 446.4 182.4 446.4 H179.2 M174.2 441.2 H184 M177.4 437.6 V439.4 M180.8 437.6 V439.4 M174 445.5 H178.4 M176.9 444 L178.4 445.5 L176.9 447" stroke="#2a2d36"/>
  </g>
  <rect x="789.9" y="437" width="0.7" height="11" fill="#eceef2"/>
  <rect x="816.4" y="434.6" width="15.8" height="17.4" rx="1.6" fill="#ebebed"/>
  <text x="824.3" y="445.9" font-size="6.8" fill="#131722" text-anchor="middle" font-family="Liberation Sans" textLength="11" lengthAdjust="spacingAndGlyphs">SET</text>
  <rect x="826" y="437" width="0" height="0"/>
</svg>

<div class="pl" style="top:53.6px">120.00</div>
<div class="pl" style="top:74.0px">116.00</div>
<div class="pl" style="top:94.4px">112.00</div>
<div class="pl" style="top:114.8px">108.00</div>
<div class="pl" style="top:135.3px">104.00</div>
<div class="pl" style="top:176.1px">96.00</div>
<div class="pl" style="top:196.5px">92.00</div>
<div class="pl" style="top:216.9px">88.00</div>
<div class="pl" style="top:237.3px">84.00</div>
<div class="pl" style="top:257.8px">80.00</div>
<div class="pl" style="top:278.2px">76.00</div>
<div class="pl" style="top:298.6px">72.00</div>
<div class="pl" style="top:319.0px">68.00</div>
<div class="pl" style="top:339.4px">64.00</div>
<div class="pl" style="top:359.8px">60.00</div>
<div class="pl" style="top:380.3px">56.00</div>
<div class="pl" style="top:400.7px">52.00</div>
<div class="tl" style="left:26.3px">2026</div>
<div class="tl" style="left:57.6px">8</div>
<div class="tl" style="left:89.3px">14</div>
<div class="tl" style="left:184.4px">Feb</div>
<div class="tl" style="left:215.7px">6</div>
<div class="tl" style="left:247.2px">12</div>
<div class="tl" style="left:278.6px">19</div>
<div class="tl" style="left:333.9px">Mar</div>
<div class="tl" style="left:365.3px">6</div>
<div class="tl" style="left:397.1px">12</div>
<div class="tl" style="left:428.5px">18</div>
<div class="tl" style="left:459.9px">24</div>
<div class="tl" style="left:507.6px">Apr</div>
<div class="tl" style="left:539.4px">8</div>
<div class="tl" style="left:570.9px">14</div>
<div class="tl" style="left:602.2px">20</div>
<div class="tl" style="left:633.9px">24</div>
<div class="tl" style="left:673.5px">May</div>
<div class="tl" style="left:705.0px">7</div>
<div class="tl" style="left:736.3px">13</div>
<div class="tl" style="left:767.8px">19</div>

</body></html>
